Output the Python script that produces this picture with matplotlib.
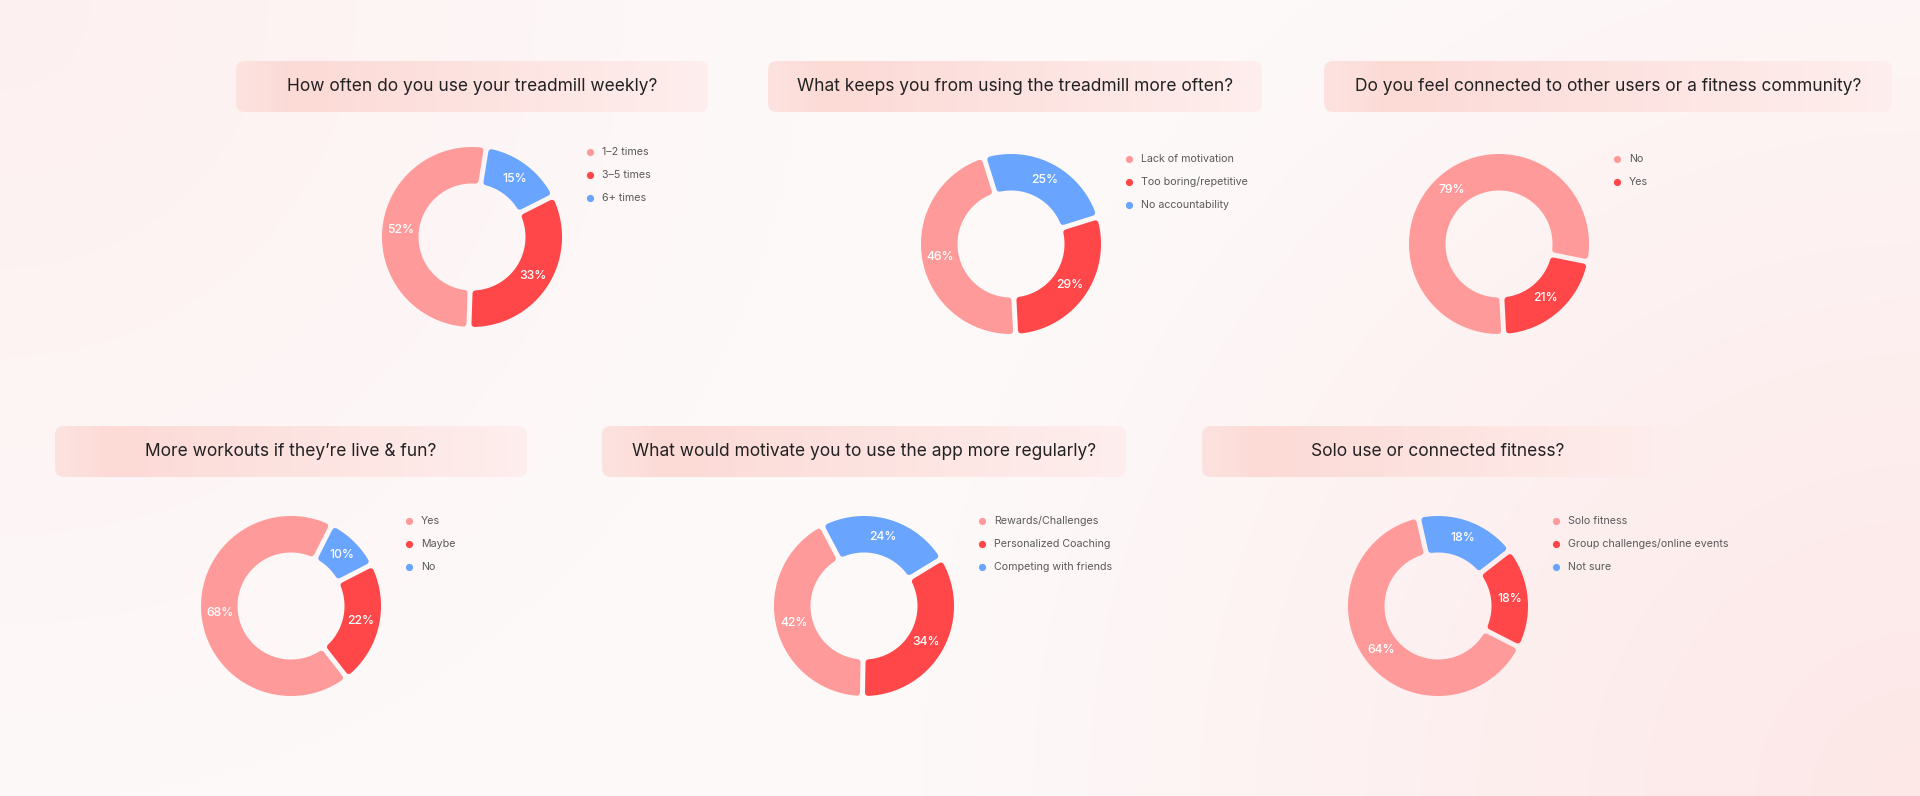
import numpy as np
import matplotlib.pyplot as plt
from matplotlib.patches import FancyBboxPatch, Polygon

W, H = 1920, 796

titles = [
    "How often do you use your treadmill weekly?",
    "What keeps you from using the treadmill more often?",
    "Do you feel connected to other users or a fitness community?",
    "More workouts if they\u2019re live & fun?",
    "What would motivate you to use the app more regularly?",
    "Solo use or connected fitness?",
]
legend_labels = [
    ["1\u20132 times", "3\u20135 times", "6+ times"],
    ["Lack of motivation", "Too boring/repetitive", "No accountability"],
    ["No", "Yes"],
    ["Yes", "Maybe", "No"],
    ["Rewards/Challenges", "Personalized Coaching", "Competing with friends"],
    ["Solo fitness", "Group challenges/online events", "Not sure"],
]
values = [
    [52, 33, 15],
    [46, 29, 25],
    [79, 21],
    [68, 22, 10],
    [42, 34, 24],
    [64, 18, 18],
]

colors = ["#FF9A9A", "#FF4648", "#69A5FF"]

# layout, in image pixels (y measured from top)
centers = [(472, 237), (1011, 244), (1499, 244), (291, 606), (864, 606), (1438, 606)]
start_cw = [182, 177, 177, 142, 181, 117]   # degrees clockwise from 12 o'clock
boxes = [(236, 708, 61, 112), (768, 1262, 61, 112), (1324, 1892, 61, 112),
         (55, 527, 426, 477), (602, 1126, 426, 477), (1202, 1673, 426, 477)]
R_OUT, R_IN = 90, 53.5
GAP, ROUND = 5, 3
SMALL_FONT = ["Inter", "Noto Sans CJK SC", "DejaVu Sans"]

fig = plt.figure(figsize=(19.2, 7.96), dpi=100)
ax = fig.add_axes([0, 0, 1, 1])
ax.axis("off")

# background with soft pink corners
yy, xx = np.mgrid[0:H:4, 0:W:4]
t1 = np.clip(1 - np.hypot(xx, yy) / 800, 0, 1)
t2 = np.clip(1 - np.hypot(W - xx, H - yy) / 1000, 0, 1)
base = np.array([254, 249, 249], dtype=float)
bg = base - t1[..., None] * np.array([1, 9, 9]) - t2[..., None] * np.array([1, 18, 18])
ax.imshow(bg / 255, extent=(0, W, 0, H), origin="upper", zorder=0,
          interpolation="bilinear", aspect="auto")

title_texts = []
f = np.linspace(0, 1, 300)
stops = [0, 0.12, 1]
grad = np.stack([np.interp(f, stops, [253, 252, 254]),
                 np.interp(f, stops, [227, 218, 238]),
                 np.interp(f, stops, [224, 214, 237])], axis=-1) / 255
for (x0, x1, y0, y1), title in zip(boxes, titles):
    patch = FancyBboxPatch((x0, H - y1), x1 - x0, y1 - y0,
                           boxstyle="round,pad=0,rounding_size=9",
                           fc="none", ec="none", zorder=1)
    ax.add_patch(patch)
    im = ax.imshow(grad[None], extent=(x0, x1, H - y1, H - y0), zorder=1,
                   aspect="auto", interpolation="bilinear")
    im.set_clip_path(patch)
    t = ax.text((x0 + x1) / 2, H - (y0 + y1) / 2, title, ha="center", va="center",
                fontsize=14, color="#222222", family=["Inter", "DejaVu Sans"],
                fontweight="normal", zorder=4)
    title_texts.append(t)


def ring_slice(cx, cy, th1, th2):
    a1, a2 = np.radians(th1), np.radians(th2)
    d = GAP / 2 + ROUND
    ro, ri = R_OUT - ROUND, R_IN + ROUND
    ta = np.linspace(a1 + np.arcsin(d / ro), a2 - np.arcsin(d / ro), 120)
    tb = np.linspace(a2 - np.arcsin(d / ri), a1 + np.arcsin(d / ri), 120)
    xs = np.r_[cx + ro * np.cos(ta), cx + ri * np.cos(tb)]
    ys = np.r_[cy + ro * np.sin(ta), cy + ri * np.sin(tb)]
    return np.column_stack([xs, ys])


for i in range(6):
    vals = values[i]
    order = [0, 2, 1] if len(vals) == 3 else [0, 1]
    cx, cy = centers[i]
    wedges, _, pcts = ax.pie([vals[j] for j in order],
                             colors=[colors[j] for j in order],
                             center=(cx, H - cy), radius=R_OUT,
                             startangle=90 - start_cw[i], counterclock=False,
                             autopct=lambda p: f"{p:.0f}%",
                             pctdistance=(R_OUT + R_IN) / 2 / R_OUT, frame=True,
                             textprops=dict(color="white", fontsize=8.8,
                                            fontweight="medium", family=SMALL_FONT))
    for w in wedges:
        poly = Polygon(ring_slice(cx, H - cy, w.theta1, w.theta2), closed=True,
                       fc=w.get_facecolor(), ec=w.get_facecolor(),
                       lw=2 * ROUND * 0.72, joinstyle="round", zorder=2)
        ax.add_patch(poly)
        w.set_visible(False)
    for p in pcts:
        p.set_zorder(5)

    lx, ly = cx + 118, cy - 85
    for j, lab in enumerate(legend_labels[i]):
        yj = H - (ly + 23 * j)
        ax.scatter([lx], [yj], s=27, color=colors[j], linewidths=0, zorder=3)
        ax.text(lx + 12, yj, lab, va="center", ha="left", fontsize=7.7,
                color="#5a5a5a", family=SMALL_FONT, zorder=4)

ax.set_xlim(0, W)
ax.set_ylim(0, H)

# scale the title size to the width measured on the reference
fig.canvas.draw()
rend = fig.canvas.get_renderer()
k = 371 / title_texts[0].get_window_extent(rend).width
for t in title_texts:
    t.set_fontsize(t.get_fontsize() * k)

fig.savefig("out.png", dpi=100)
